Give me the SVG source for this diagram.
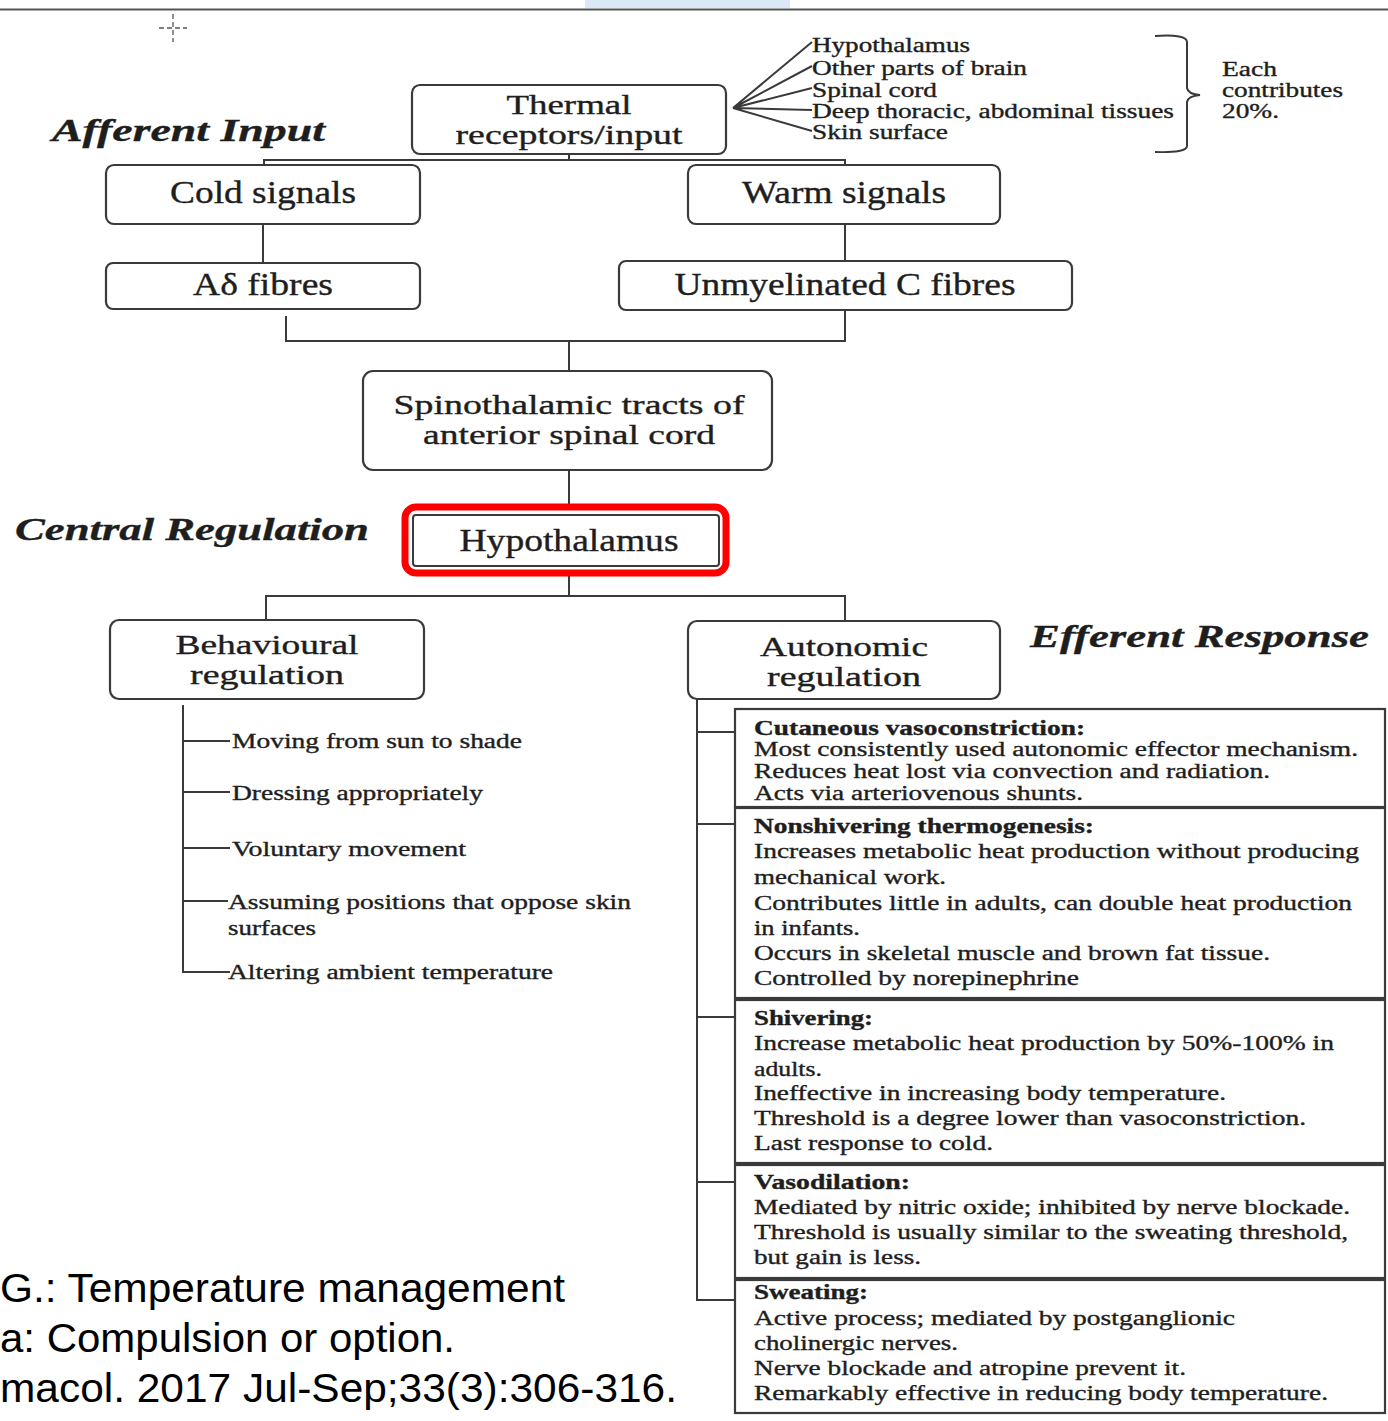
<svg xmlns="http://www.w3.org/2000/svg" width="1388" height="1421" viewBox="0 0 1388 1421">
<style>
.bx{fill:#fff;stroke:#3a3a3a;stroke-width:2.2}
.ln{fill:none;stroke:#3a3a3a;stroke-width:2}
.t{font-family:"Liberation Serif","Times New Roman",serif;fill:#1e1e1e;stroke:#1e1e1e;stroke-width:0.35}
.big{font-size:31px;text-anchor:middle}
.two{font-size:27px;text-anchor:middle}
.lab{font-size:31px;font-weight:bold;font-style:italic}
.sm{font-size:20px}
.b{font-weight:bold}
.foot{font-family:"Liberation Sans",Arial,sans-serif;font-size:40px;fill:#000}
</style>
<rect x="0" y="0" width="1388" height="1421" fill="#fff"/>
<rect x="585" y="0" width="205" height="8" fill="#dbe9f6"/>
<line x1="0" y1="9.5" x2="1388" y2="9.5" stroke="#555" stroke-width="2"/>
<g id="crosshair" stroke="#555" stroke-width="1.3" stroke-dasharray="5,3">
<line x1="173" y1="14" x2="173" y2="42"/>
<line x1="159" y1="28" x2="187" y2="28"/>
</g>

<g id="connectors">
<path class="ln" d="M569 154 V160 M264 166 V160 H845 V166"/>
<path class="ln" d="M263 224 V263"/>
<path class="ln" d="M845 224 V261"/>
<path class="ln" d="M286 316 V341 H569" stroke-width="3"/>
<path class="ln" d="M845 310 V341 H569 M569 341 V371"/>
<path class="ln" d="M569 470 V507"/>
<path class="ln" d="M569 574 V596 M266 620 V596 H845 V621"/>
<path class="ln" d="M183 705 V972 H230 M183 741 H230 M183 792 H230 M183 848 H230 M183 901 H228"/>
<path class="ln" d="M697 699 V1300 H735 M697 732 H735 M697 824 H735 M697 1017 H735 M697 1182 H735"/>
<path class="ln" d="M733 108 L812 42 M733 108 L812 66 M733 108 L812 88 M733 108 L812 110 M733 108 L812 131" stroke-width="1.8"/>
<path class="ln" d="M1155 36 Q1187 34 1187 42 V88 Q1188 94 1200 95 Q1188 96 1187 102 V146 Q1187 153 1155 152" stroke-width="1.8"/>
</g>

<g id="lbl-afferent"><text class="t lab" x="52" y="141" textLength="273" lengthAdjust="spacingAndGlyphs">Afferent Input</text></g>
<g id="lbl-central"><text class="t lab" x="15" y="540" textLength="354" lengthAdjust="spacingAndGlyphs">Central Regulation</text></g>
<g id="lbl-efferent"><text class="t lab" x="1030" y="647" textLength="339" lengthAdjust="spacingAndGlyphs">Efferent Response</text></g>

<g id="n-thermal">
<rect class="bx" x="412" y="85" width="314" height="69" rx="8"/>
<text class="t two" x="569" y="114" textLength="125" lengthAdjust="spacingAndGlyphs">Thermal</text>
<text class="t two" x="569" y="144" textLength="227" lengthAdjust="spacingAndGlyphs">receptors/input</text>
</g>
<g id="n-sources">
<text class="t sm" x="812" y="52" textLength="158" lengthAdjust="spacingAndGlyphs">Hypothalamus</text>
<text class="t sm" x="812" y="75" textLength="215" lengthAdjust="spacingAndGlyphs">Other parts of brain</text>
<text class="t sm" x="812" y="97" textLength="125" lengthAdjust="spacingAndGlyphs">Spinal cord</text>
<text class="t sm" x="812" y="118" textLength="362" lengthAdjust="spacingAndGlyphs">Deep thoracic, abdominal tissues</text>
<text class="t sm" x="812" y="139" textLength="136" lengthAdjust="spacingAndGlyphs">Skin surface</text>
</g>
<g id="n-each">
<text class="t sm" x="1222" y="76" textLength="55" lengthAdjust="spacingAndGlyphs">Each</text>
<text class="t sm" x="1222" y="97" textLength="121" lengthAdjust="spacingAndGlyphs">contributes</text>
<text class="t sm" x="1222" y="118" textLength="57" lengthAdjust="spacingAndGlyphs">20%.</text>
</g>
<g id="n-cold">
<rect class="bx" x="106" y="165" width="314" height="59" rx="8"/>
<text class="t big" x="263" y="203" textLength="186" lengthAdjust="spacingAndGlyphs">Cold signals</text>
</g>
<g id="n-warm">
<rect class="bx" x="688" y="165" width="312" height="59" rx="8"/>
<text class="t big" x="844" y="203" textLength="204" lengthAdjust="spacingAndGlyphs">Warm signals</text>
</g>
<g id="n-adelta">
<rect class="bx" x="106" y="263" width="314" height="46" rx="7"/>
<text class="t big" x="263" y="295" textLength="140" lengthAdjust="spacingAndGlyphs">Aδ fibres</text>
</g>
<g id="n-cfibres">
<rect class="bx" x="619" y="261" width="453" height="49" rx="7"/>
<text class="t big" x="845" y="295" textLength="341" lengthAdjust="spacingAndGlyphs">Unmyelinated C fibres</text>
</g>
<g id="n-spino">
<rect class="bx" x="363" y="371" width="409" height="99" rx="10"/>
<text class="t two" x="569" y="414" textLength="351" lengthAdjust="spacingAndGlyphs">Spinothalamic tracts of</text>
<text class="t two" x="569" y="444" textLength="292" lengthAdjust="spacingAndGlyphs">anterior spinal cord</text>
</g>
<g id="n-hypo">
<rect x="405" y="507" width="321" height="66" rx="11" fill="#fff" stroke="#f00" stroke-width="7"/>
<rect x="413" y="515" width="306" height="51" rx="3" fill="none" stroke="#3a3a3a" stroke-width="2"/>
<text class="t big" x="569" y="551" textLength="219" lengthAdjust="spacingAndGlyphs">Hypothalamus</text>
</g>
<g id="n-behav">
<rect class="bx" x="110" y="620" width="314" height="79" rx="9"/>
<text class="t two" x="267" y="654" textLength="183" lengthAdjust="spacingAndGlyphs">Behavioural</text>
<text class="t two" x="267" y="684" textLength="154" lengthAdjust="spacingAndGlyphs">regulation</text>
</g>
<g id="n-auto">
<rect class="bx" x="688" y="621" width="312" height="78" rx="9"/>
<text class="t two" x="844" y="656" textLength="168" lengthAdjust="spacingAndGlyphs">Autonomic</text>
<text class="t two" x="844" y="686" textLength="154" lengthAdjust="spacingAndGlyphs">regulation</text>
</g>
<g id="n-behav-list">
<text class="t sm" x="232" y="748" textLength="290" lengthAdjust="spacingAndGlyphs">Moving from sun to shade</text>
<text class="t sm" x="232" y="800" textLength="251" lengthAdjust="spacingAndGlyphs">Dressing appropriately</text>
<text class="t sm" x="232" y="856" textLength="234" lengthAdjust="spacingAndGlyphs">Voluntary movement</text>
<text class="t sm" x="228" y="909" textLength="403" lengthAdjust="spacingAndGlyphs">Assuming positions that oppose skin</text>
<text class="t sm" x="228" y="935" textLength="88" lengthAdjust="spacingAndGlyphs">surfaces</text>
<text class="t sm" x="228" y="979" textLength="325" lengthAdjust="spacingAndGlyphs">Altering ambient temperature</text>
</g>
<g id="n-cutaneous">
<rect class="bx" x="735" y="709" width="650" height="98" rx="0"/>
<text class="t sm b" x="754" y="735" textLength="331" lengthAdjust="spacingAndGlyphs">Cutaneous vasoconstriction:</text>
<text class="t sm" x="754" y="756" textLength="604" lengthAdjust="spacingAndGlyphs">Most consistently used autonomic effector mechanism.</text>
<text class="t sm" x="754" y="778" textLength="516" lengthAdjust="spacingAndGlyphs">Reduces heat lost via convection and radiation.</text>
<text class="t sm" x="754" y="800" textLength="329" lengthAdjust="spacingAndGlyphs">Acts via arteriovenous shunts.</text>
</g>
<g id="n-nonshiver">
<rect class="bx" x="735" y="808" width="650" height="190" rx="0"/>
<text class="t sm b" x="754" y="833" textLength="340" lengthAdjust="spacingAndGlyphs">Nonshivering thermogenesis:</text>
<text class="t sm" x="754" y="858" textLength="605" lengthAdjust="spacingAndGlyphs">Increases metabolic heat production without producing</text>
<text class="t sm" x="754" y="884" textLength="192" lengthAdjust="spacingAndGlyphs">mechanical work.</text>
<text class="t sm" x="754" y="910" textLength="598" lengthAdjust="spacingAndGlyphs">Contributes little in adults, can double heat production</text>
<text class="t sm" x="754" y="935" textLength="106" lengthAdjust="spacingAndGlyphs">in infants.</text>
<text class="t sm" x="754" y="960" textLength="516" lengthAdjust="spacingAndGlyphs">Occurs in skeletal muscle and brown fat tissue.</text>
<text class="t sm" x="754" y="985" textLength="325" lengthAdjust="spacingAndGlyphs">Controlled by norepinephrine</text>
</g>
<g id="n-shiver">
<rect class="bx" x="735" y="1000" width="650" height="163" rx="0"/>
<text class="t sm b" x="754" y="1025" textLength="119" lengthAdjust="spacingAndGlyphs">Shivering:</text>
<text class="t sm" x="754" y="1050" textLength="580" lengthAdjust="spacingAndGlyphs">Increase metabolic heat production by 50%-100% in</text>
<text class="t sm" x="754" y="1076" textLength="68" lengthAdjust="spacingAndGlyphs">adults.</text>
<text class="t sm" x="754" y="1100" textLength="472" lengthAdjust="spacingAndGlyphs">Ineffective in increasing body temperature.</text>
<text class="t sm" x="754" y="1125" textLength="552" lengthAdjust="spacingAndGlyphs">Threshold is a degree lower than vasoconstriction.</text>
<text class="t sm" x="754" y="1150" textLength="239" lengthAdjust="spacingAndGlyphs">Last response to cold.</text>
</g>
<g id="n-vasodil">
<rect class="bx" x="735" y="1165" width="650" height="113" rx="0"/>
<text class="t sm b" x="754" y="1189" textLength="156" lengthAdjust="spacingAndGlyphs">Vasodilation:</text>
<text class="t sm" x="754" y="1214" textLength="596" lengthAdjust="spacingAndGlyphs">Mediated by nitric oxide; inhibited by nerve blockade.</text>
<text class="t sm" x="754" y="1239" textLength="594" lengthAdjust="spacingAndGlyphs">Threshold is usually similar to the sweating threshold,</text>
<text class="t sm" x="754" y="1264" textLength="167" lengthAdjust="spacingAndGlyphs">but gain is less.</text>
</g>
<g id="n-sweat">
<rect class="bx" x="735" y="1280" width="650" height="133" rx="0"/>
<text class="t sm b" x="754" y="1299" textLength="114" lengthAdjust="spacingAndGlyphs">Sweating:</text>
<text class="t sm" x="754" y="1325" textLength="481" lengthAdjust="spacingAndGlyphs">Active process; mediated by postganglionic</text>
<text class="t sm" x="754" y="1350" textLength="204" lengthAdjust="spacingAndGlyphs">cholinergic nerves.</text>
<text class="t sm" x="754" y="1375" textLength="432" lengthAdjust="spacingAndGlyphs">Nerve blockade and atropine prevent it.</text>
<text class="t sm" x="754" y="1400" textLength="574" lengthAdjust="spacingAndGlyphs">Remarkably effective in reducing body temperature.</text>
</g>
<g id="footer">
<text class="foot" x="0" y="1302" textLength="565" lengthAdjust="spacingAndGlyphs">G.: Temperature management</text>
<text class="foot" x="0" y="1352" textLength="455" lengthAdjust="spacingAndGlyphs">a: Compulsion or option.</text>
<text class="foot" x="0" y="1402" textLength="677" lengthAdjust="spacingAndGlyphs">macol. 2017 Jul-Sep;33(3):306-316.</text>
</g>
</svg>
